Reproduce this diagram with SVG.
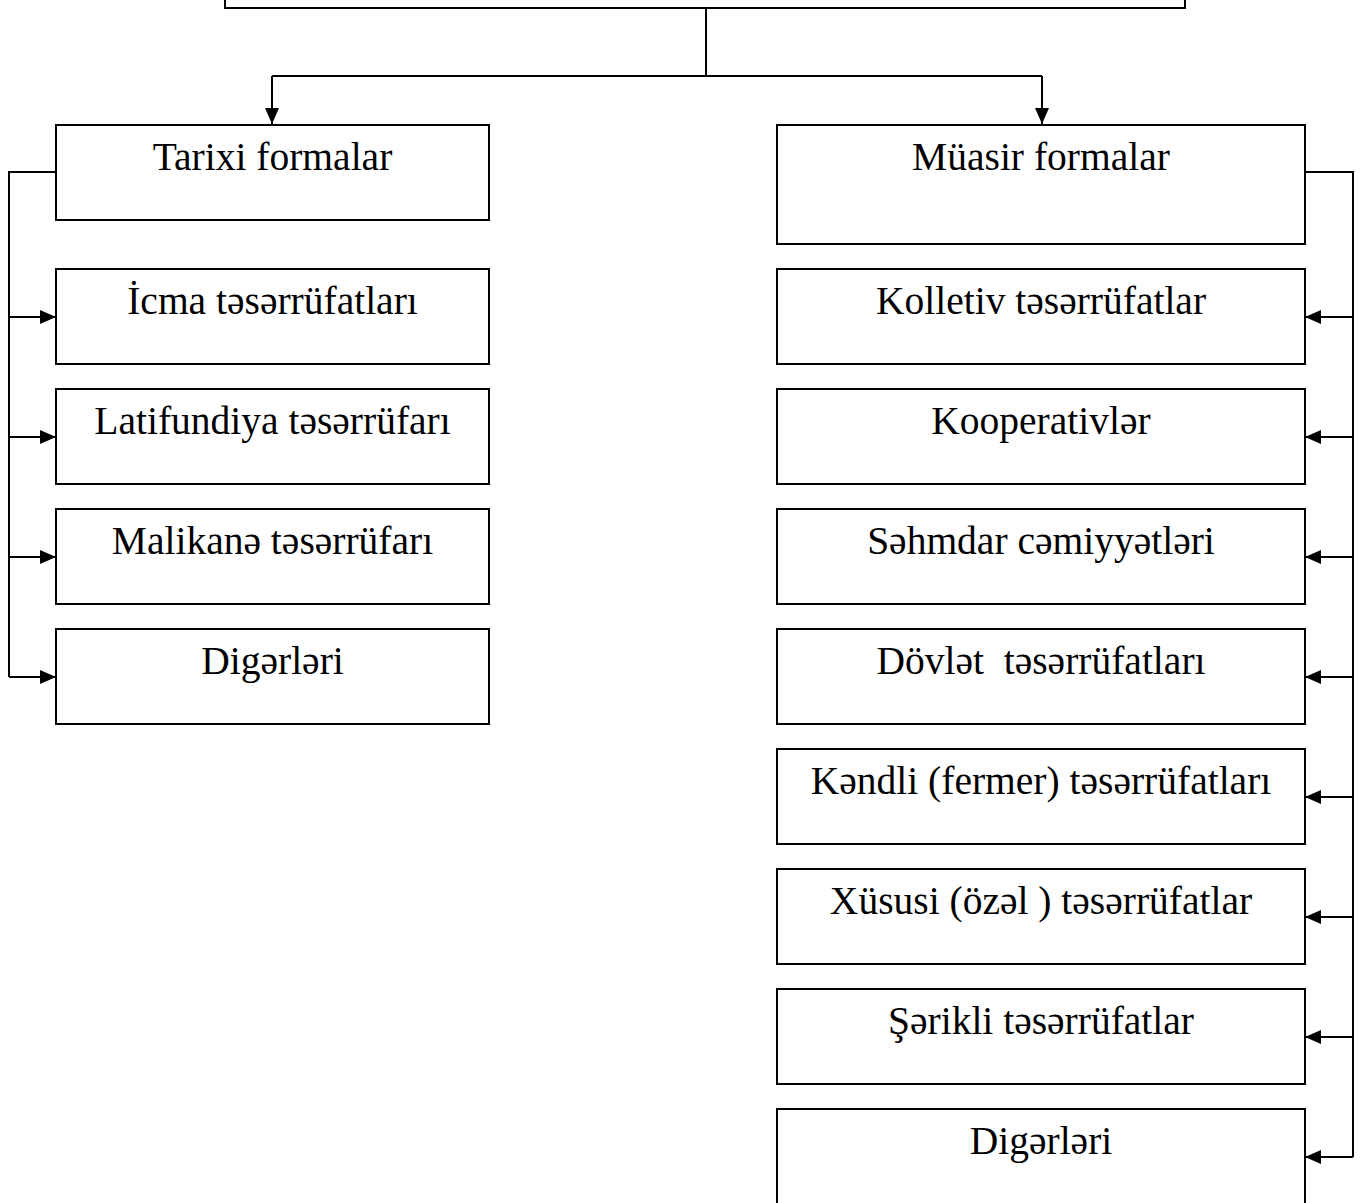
<svg xmlns="http://www.w3.org/2000/svg" width="1364" height="1203" viewBox="0 0 1364 1203">
<style>
.box{fill:#fff;stroke:#000;stroke-width:2}
.t{font-family:"Liberation Serif","Times New Roman",serif;font-size:39.5px;fill:#000;text-anchor:middle;white-space:pre}
.c{fill:none;stroke:#000;stroke-width:2}
</style>
<defs>
<marker id="ah" viewBox="0 0 16 14" refX="16" refY="7" markerWidth="16" markerHeight="14" markerUnits="userSpaceOnUse" orient="auto">
<path d="M0,0 L16,7 L0,14 Z" fill="#000"/>
</marker>
</defs>
<rect width="1364" height="1203" fill="#fff"/>
<g id="connectors">
<path class="c" d="M706,8 V76"/>
<path class="c" d="M272,76 H1042"/>
<path class="c" d="M272,76 V124" marker-end="url(#ah)"/>
<path class="c" d="M1042,76 V124" marker-end="url(#ah)"/>
<path class="c" d="M56,172 H9 V677"/>
<path class="c" d="M9,317 H56" marker-end="url(#ah)"/>
<path class="c" d="M9,437 H56" marker-end="url(#ah)"/>
<path class="c" d="M9,557 H56" marker-end="url(#ah)"/>
<path class="c" d="M9,677 H56" marker-end="url(#ah)"/>
<path class="c" d="M1305,172 H1353 V1157"/>
<path class="c" d="M1353,317 H1305" marker-end="url(#ah)"/>
<path class="c" d="M1353,437 H1305" marker-end="url(#ah)"/>
<path class="c" d="M1353,557 H1305" marker-end="url(#ah)"/>
<path class="c" d="M1353,677 H1305" marker-end="url(#ah)"/>
<path class="c" d="M1353,797 H1305" marker-end="url(#ah)"/>
<path class="c" d="M1353,917 H1305" marker-end="url(#ah)"/>
<path class="c" d="M1353,1037 H1305" marker-end="url(#ah)"/>
<path class="c" d="M1353,1157 H1305" marker-end="url(#ah)"/>
</g>
<g id="top"><rect class="box" x="225" y="-50" width="960" height="58"/></g>
<g id="tarixi"><rect class="box" x="56" y="125" width="433" height="95"/><text class="t" x="272.5" y="170">Tarixi formalar</text></g>
<g id="icma"><rect class="box" x="56" y="269" width="433" height="95"/><text class="t" x="272.5" y="314">İcma təsərrüfatları</text></g>
<g id="latifundiya"><rect class="box" x="56" y="389" width="433" height="95"/><text class="t" x="272.5" y="434">Latifundiya təsərrüfarı</text></g>
<g id="malikane"><rect class="box" x="56" y="509" width="433" height="95"/><text class="t" x="272.5" y="554">Malikanə təsərrüfarı</text></g>
<g id="digerleri-l"><rect class="box" x="56" y="629" width="433" height="95"/><text class="t" x="272.5" y="674">Digərləri</text></g>
<g id="muasir"><rect class="box" x="777" y="125" width="528" height="119"/><text class="t" x="1041" y="170">Müasir formalar</text></g>
<g id="kolletiv"><rect class="box" x="777" y="269" width="528" height="95"/><text class="t" x="1041" y="314">Kolletiv təsərrüfatlar</text></g>
<g id="kooperativler"><rect class="box" x="777" y="389" width="528" height="95"/><text class="t" x="1041" y="434">Kooperativlər</text></g>
<g id="sehmdar"><rect class="box" x="777" y="509" width="528" height="95"/><text class="t" x="1041" y="554">Səhmdar cəmiyyətləri</text></g>
<g id="dovlet"><rect class="box" x="777" y="629" width="528" height="95"/><text class="t" x="1041" y="674">Dövlət  təsərrüfatları</text></g>
<g id="kendli"><rect class="box" x="777" y="749" width="528" height="95"/><text class="t" x="1041" y="794">Kəndli (fermer) təsərrüfatları</text></g>
<g id="xususi"><rect class="box" x="777" y="869" width="528" height="95"/><text class="t" x="1041" y="914">Xüsusi (özəl ) təsərrüfatlar</text></g>
<g id="serikli"><rect class="box" x="777" y="989" width="528" height="95"/><text class="t" x="1041" y="1034">Şərikli təsərrüfatlar</text></g>
<g id="digerleri-r"><rect class="box" x="777" y="1109" width="528" height="120"/><text class="t" x="1041" y="1154">Digərləri</text></g>
</svg>
